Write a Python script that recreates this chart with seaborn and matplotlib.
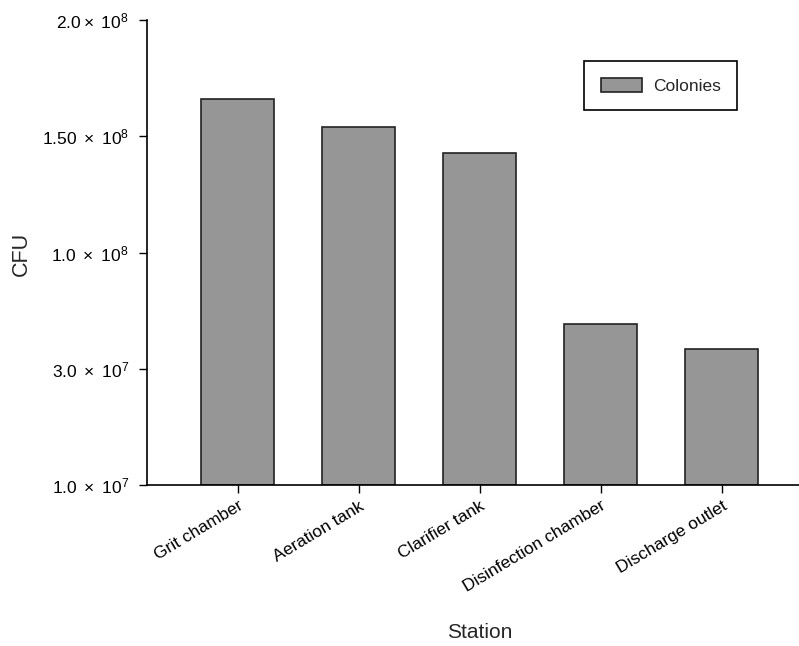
import numpy as np
import matplotlib
matplotlib.use("Agg")
import matplotlib.pyplot as plt
import seaborn as sns

stations = ["Grit chamber", "Aeration tank", "Clarifier tank",
            "Disinfection chamber", "Discharge outlet"]
cfu = [1.66e8, 1.54e8, 1.43e8, 5.7e7, 4.2e7]

tick_vals = [1e7, 3e7, 1e8, 1.5e8, 2e8]
tick_labels = [r"$\mathregular{1.0\ \times\ 10^{7}}$",
               r"$\mathregular{3.0\ \times\ 10^{7}}$",
               r"$\mathregular{1.0\ \times\ 10^{8}}$",
               r"$\mathregular{1.50\ \times\ 10^{8}}$",
               r"$\mathregular{2.0\times\ 10^{8}}$"]

sns.set_style("ticks")
plt.rcParams["font.family"] = ["Liberation Sans", "DejaVu Sans"]
plt.rcParams["mathtext.fontset"] = "custom"
plt.rcParams["mathtext.rm"] = "Liberation Sans"
plt.rcParams["mathtext.it"] = "Liberation Sans:italic"
plt.rcParams["mathtext.bf"] = "Liberation Sans:bold"

idx = np.arange(len(tick_vals))


def fwd(v):
    return np.interp(v, tick_vals, idx)


def inv(p):
    return np.interp(p, idx, tick_vals)


fig = plt.figure(figsize=(7.99, 6.46), dpi=100)
ax = fig.add_axes([0.184, 0.249, 0.816, 0.72])
ax.set_yscale("function", functions=(fwd, inv))

sns.barplot(x=stations, y=cfu, color="#969696", edgecolor="#222222",
            linewidth=1.2, width=0.6, saturation=1, label="Colonies", ax=ax)

ax.set_ylim(1e7, 2e8)
ax.set_xlim(-0.75, 4.64)
ax.set_yticks(tick_vals)
ax.set_yticklabels(tick_labels, fontsize=12.5)
ax.minorticks_off()
ax.set_xticks(range(len(stations)))
ax.set_xticklabels(stations, rotation=31, ha="right", rotation_mode="anchor",
                   fontsize=12.5)

ax.set_ylabel("CFU", fontsize=15.5, va="center")
ax.yaxis.set_label_coords(-0.192, 0.497)
ax.set_xlabel("Station", fontsize=15, va="center")
ax.xaxis.set_label_coords(0.51, -0.316)

for s in ["top", "right"]:
    ax.spines[s].set_visible(False)
for s in ["left", "bottom"]:
    ax.spines[s].set_color("black")
    ax.spines[s].set_linewidth(1.2)
ax.tick_params(axis="both", direction="out", length=6, width=1, colors="black")
ax.tick_params(axis="y", pad=7)

leg = ax.legend(loc="upper left", bbox_to_anchor=(0.657, 0.93), fancybox=False,
                edgecolor="black", framealpha=1, fontsize=12.5,
                handlelength=2.4, handleheight=0.9, borderpad=0.95,
                handletextpad=0.6)
leg.get_frame().set_linewidth(1.2)

fig.savefig("out.png", dpi=100)
